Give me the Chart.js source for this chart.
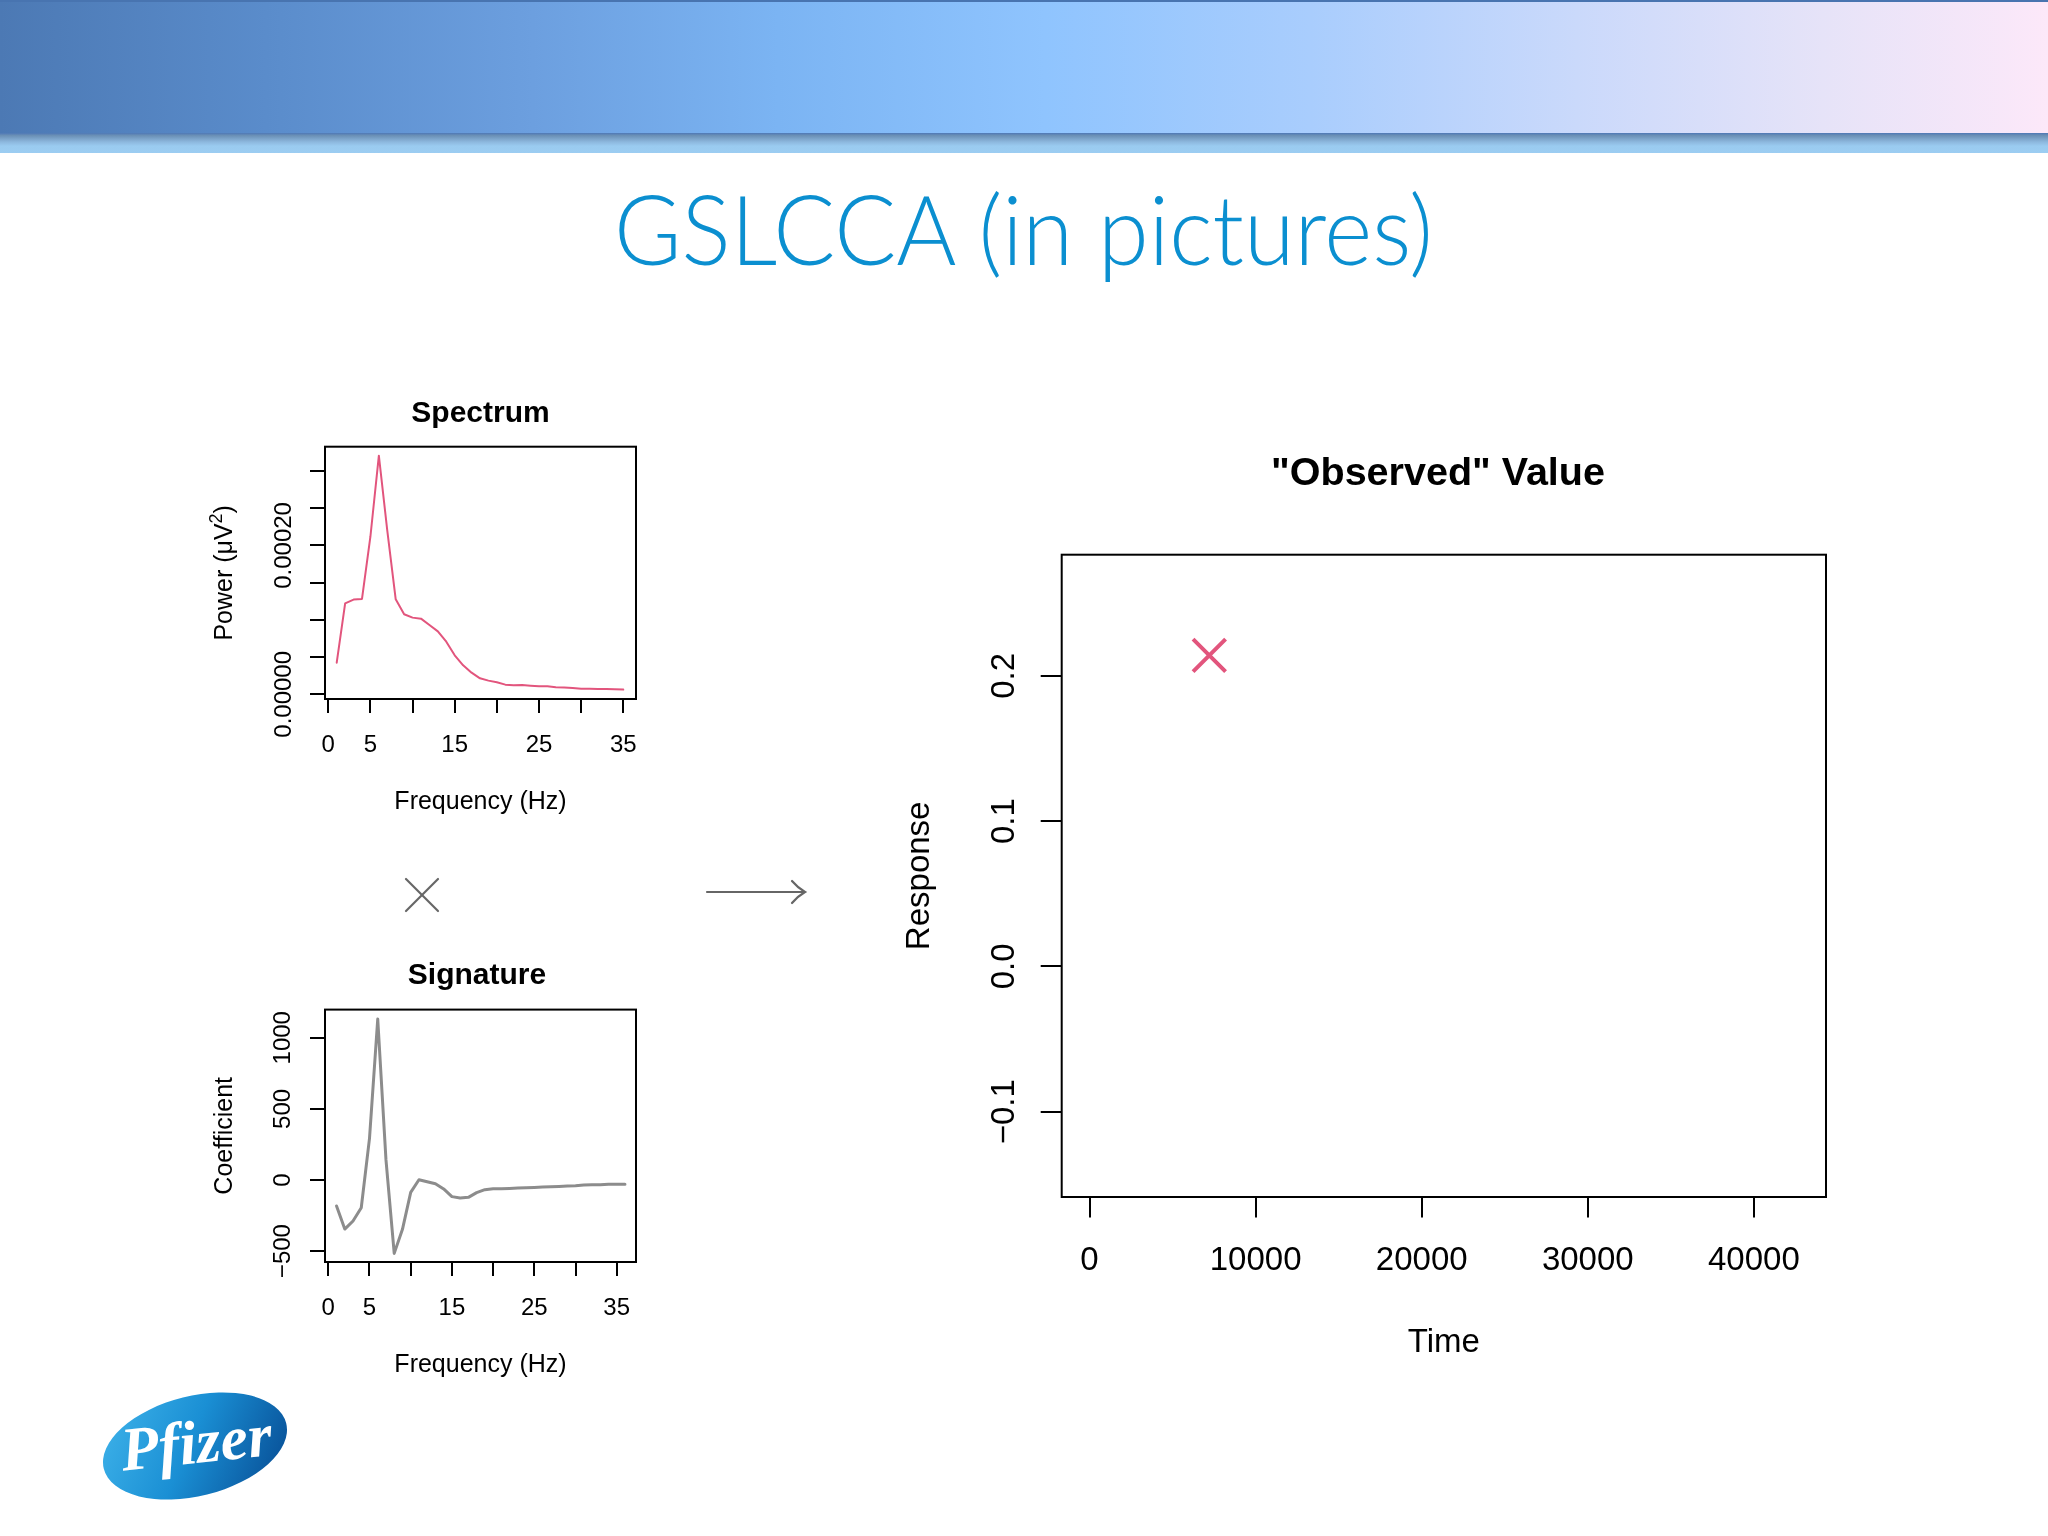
<!DOCTYPE html>
<html>
<head>
<meta charset="utf-8">
<script src="https://cdn.jsdelivr.net/npm/chart.js@4.4.1/dist/chart.umd.min.js"></script>
<style>
  body { margin: 0; width: 2048px; height: 1536px; background: #fff; position: relative; overflow: hidden; }
  #header { position: absolute; left: 0; top: 0; width: 2048px; height: 135px; box-sizing: border-box;
    border-top: 2px solid #4874b0;
    background: linear-gradient(to right, #4c79b4 0%, #5a8ccb 13%, #6c9fdf 26%, #7bb4f3 38%, #8fc4fe 51%, #a9cdfd 64%, #cad9fb 77%, #e6e3f8 89%, #fce8f9 100%); }
  #band { position: absolute; left: 0; top: 133px; width: 2048px; height: 20px;
    background: linear-gradient(to bottom, #4e78b6 0%, #6a8fb5 12%, #8db8de 45%, #9acbf0 65%, #9ccdf2 100%); }
  canvas, svg { position: absolute; left: 0; top: 0; }
</style>
</head>
<body>
<div id="header"></div>
<div id="band"></div>
<svg width="2048" height="1536">
  <defs>
    <linearGradient id="pfizer-grad" x1="0" y1="0.2" x2="1" y2="0.6">
      <stop offset="0" stop-color="#3cb0e8"/>
      <stop offset="0.5" stop-color="#1a8fd4"/>
      <stop offset="1" stop-color="#0a579e"/>
    </linearGradient>
  </defs>
  <text x="1023.5" y="265" text-anchor="middle" font-family="Lato" font-weight="300" font-size="96" fill="#0b8fd0"
        textLength="819" lengthAdjust="spacingAndGlyphs">GSLCCA (in pictures)</text>
  <g stroke="#666" stroke-width="2.2" fill="none" stroke-linecap="round">
    <line x1="406" y1="879" x2="438" y2="911"/>
    <line x1="406" y1="911" x2="438" y2="879"/>
    <line x1="707" y1="892" x2="804" y2="892"/>
    <path d="M792 881 Q798 888 805 892 Q798 896 792 903"/>
  </g>
  <ellipse cx="195" cy="1446" rx="94" ry="50" transform="rotate(-14 195 1446)" fill="url(#pfizer-grad)"/>
  <text x="197" y="1463" text-anchor="middle" font-family="Liberation Serif" font-weight="bold" font-style="italic"
        font-size="62" fill="#fff" transform="rotate(-6 196 1450)">Pfizer</text>
</svg>
<canvas id="spectrum" width="2048" height="1536"></canvas>
<canvas id="signature" width="2048" height="1536"></canvas>
<canvas id="observed" width="2048" height="1536"></canvas>
<script>
// Spectrum panel
const spectrumFreq = [1, 2, 3, 4, 5, 6, 7, 8, 9, 10, 11, 12, 13, 14, 15, 16, 17, 18, 19, 20,
  21, 22, 23, 24, 25, 26, 27, 28, 29, 30, 31, 32, 33, 34, 35];
const spectrumPower = [4.25e-5, 1.222e-4, 1.272e-4, 1.281e-4, 2.12e-4, 3.206e-4, 2.2e-4, 1.276e-4,
  1.075e-4, 1.03e-4, 1.016e-4, 9.31e-5, 8.46e-5, 7.07e-5, 5.24e-5, 3.9e-5, 2.91e-5, 2.15e-5,
  1.84e-5, 1.61e-5, 1.3e-5, 1.21e-5, 1.25e-5, 1.16e-5, 1.07e-5, 1.07e-5, 9.4e-6, 9.0e-6,
  8.5e-6, 7.6e-6, 7.6e-6, 7.2e-6, 7.2e-6, 6.7e-6, 6.3e-6];
const spectrumXTicks = [0, 5, 10, 15, 20, 25, 30, 35];
const spectrumXLabels = [0, 5, 15, 25, 35];
const spectrumYTicks = [0, 0.00005, 0.0001, 0.00015, 0.0002, 0.00025, 0.0003];
const spectrumYLabels = [0, 0.0002];

// Signature panel
const signatureFreq = [1, 2, 3, 4, 5, 6, 7, 8, 9, 10, 11, 12, 13, 14, 15, 16, 17, 18, 19, 20,
  21, 22, 23, 24, 25, 26, 27, 28, 29, 30, 31, 32, 33, 34, 35, 36];
const signatureCoef = [-183, -345, -288, -195, 293, 1132, 141, -516, -347, -87, 2, -12, -26, -63,
  -117, -127, -122, -89, -68, -61, -61, -59, -56, -54, -52, -49, -47, -45, -42, -40, -35, -33,
  -33, -30, -30, -30];
const signatureXTicks = [0, 5, 10, 15, 20, 25, 30, 35];
const signatureXLabels = [0, 5, 15, 25, 35];
const signatureYTicks = [-500, 0, 500, 1000];
const signatureYLabels = [-500, 0, 500, 1000];

// "Observed" value panel
const observedTime = [7213];
const observedResponse = [0.2141];
const observedXTicks = [0, 10000, 20000, 30000, 40000];
const observedYTicks = [-0.1, 0, 0.1, 0.2];

const PINK = "#e2557d";
const FONT = '"Liberation Sans", Arial, sans-serif';

function fmt(v, digits) {
  let s = Math.abs(v).toFixed(digits);
  return (v < 0 ? "\u2212" : "") + s;
}

// draws the R style box, tick labels and titles
const rStyle = {
  id: "rStyle",
  afterDraw(chart, args, o) {
    const ctx = chart.ctx;
    const a = chart.chartArea;
    const xs = chart.scales.x, ys = chart.scales.y;
    ctx.save();
    ctx.strokeStyle = "#000";
    ctx.lineWidth = o.boxWidth;
    ctx.strokeRect(a.left, a.top, a.right - a.left, a.bottom - a.top);

    ctx.fillStyle = "#000";
    ctx.textAlign = "center";
    ctx.textBaseline = "alphabetic";
    ctx.font = o.tickFont + "px " + FONT;
    o.xLabels.forEach((v) => {
      ctx.fillText(fmt(v, o.xDigits), xs.getPixelForValue(v), a.bottom + o.xLabelGap);
    });
    o.yLabels.forEach((v) => {
      ctx.save();
      ctx.translate(a.left - o.yLabelGap, ys.getPixelForValue(v));
      ctx.rotate(-Math.PI / 2);
      ctx.fillText(fmt(v, o.yDigits), 0, 0);
      ctx.restore();
    });

    ctx.font = "bold " + o.titleFont + "px " + FONT;
    ctx.fillText(o.title, o.titleX, a.top - o.titleGap);

    ctx.font = o.labelFont + "px " + FONT;
    ctx.fillText(o.xTitle, (a.left + a.right) / 2, a.bottom + o.xTitleGap);

    // y title, with optional superscript
    ctx.save();
    ctx.translate(a.left - o.yTitleGap, (a.top + a.bottom) / 2);
    ctx.rotate(-Math.PI / 2);
    const parts = o.yTitle;
    const supFont = Math.round(o.labelFont * 0.7) + "px " + FONT;
    const normFont = o.labelFont + "px " + FONT;
    let total = 0;
    const widths = parts.map((p) => {
      ctx.font = p.sup ? supFont : normFont;
      const w = ctx.measureText(p.text).width;
      total += w;
      return w;
    });
    let x = -total / 2;
    ctx.textAlign = "left";
    parts.forEach((p, i) => {
      ctx.font = p.sup ? supFont : normFont;
      ctx.fillText(p.text, x, p.sup ? -o.labelFont * 0.42 : 0);
      x += widths[i];
    });
    ctx.restore();
    ctx.restore();
  }
};

function rChart(id, cfg) {
  const W = 2048, H = 1536, pad = 20;
  return new Chart(document.getElementById(id), {
    type: "line",
    data: { datasets: cfg.datasets },
    options: {
      responsive: false,
      animation: false,
      devicePixelRatio: 1,
      events: [],
      layout: {
        padding: { left: cfg.box.l - pad, top: cfg.box.t, right: W - cfg.box.r, bottom: H - cfg.box.b - pad }
      },
      plugins: {
        legend: { display: false },
        tooltip: { enabled: false },
        rStyle: cfg.r
      },
      scales: {
        x: {
          type: "linear",
          min: cfg.xMin, max: cfg.xMax,
          afterFit: (s) => { s.height = pad; },
          afterBuildTicks: (s) => { s.ticks = cfg.xTicks.map((v) => ({ value: v })); },
          grid: { drawOnChartArea: false, drawTicks: true, tickLength: cfg.xTickLen, color: "#000", lineWidth: cfg.tickWidth },
          border: { display: false },
          ticks: { display: false }
        },
        y: {
          type: "linear",
          min: cfg.yMin, max: cfg.yMax,
          afterFit: (s) => { s.width = pad; },
          afterBuildTicks: (s) => { s.ticks = cfg.yTicks.map((v) => ({ value: v })); },
          grid: { drawOnChartArea: false, drawTicks: true, tickLength: cfg.yTickLen, color: "#000", lineWidth: cfg.tickWidth },
          border: { display: false },
          ticks: { display: false }
        }
      }
    },
    plugins: [rStyle]
  });
}

rChart("spectrum", {
  box: { l: 325, t: 446.7, r: 636, b: 699 },
  xMin: -0.39, xMax: 36.51, yMin: -0.0000063, yMax: 0.0003326,
  xTicks: spectrumXTicks, yTicks: spectrumYTicks,
  xTickLen: 14, yTickLen: 15, tickWidth: 2,
  datasets: [{
    data: spectrumFreq.map((f, i) => ({ x: f, y: spectrumPower[i] })),
    borderColor: PINK, borderWidth: 2, pointRadius: 0, tension: 0,
    borderJoinStyle: "round", borderCapStyle: "round"
  }],
  r: {
    boxWidth: 2, tickFont: 24, labelFont: 25, titleFont: 30,
    xLabels: spectrumXLabels, xDigits: 0, xLabelGap: 52.7,
    yLabels: spectrumYLabels, yDigits: 5, yLabelGap: 34,
    title: "Spectrum", titleX: 480.5, titleGap: 25,
    xTitle: "Frequency (Hz)", xTitleGap: 110,
    yTitle: [{ text: "Power (\u03bcV" }, { text: "2", sup: true }, { text: ")" }], yTitleGap: 93
  }
});

rChart("signature", {
  box: { l: 325, t: 1009.6, r: 636, b: 1262 },
  xMin: -0.4, xMax: 37.34, yMin: -576.6, yMax: 1198,
  xTicks: signatureXTicks, yTicks: signatureYTicks,
  xTickLen: 14, yTickLen: 15, tickWidth: 2,
  datasets: [{
    data: signatureFreq.map((f, i) => ({ x: f, y: signatureCoef[i] })),
    borderColor: "#8c8c8c", borderWidth: 3, pointRadius: 0, tension: 0,
    borderJoinStyle: "round", borderCapStyle: "round"
  }],
  r: {
    boxWidth: 2, tickFont: 24, labelFont: 25, titleFont: 30,
    xLabels: signatureXLabels, xDigits: 0, xLabelGap: 53,
    yLabels: signatureYLabels, yDigits: 0, yLabelGap: 35,
    title: "Signature", titleX: 477, titleGap: 25.6,
    xTitle: "Frequency (Hz)", xTitleGap: 110.3,
    yTitle: [{ text: "Coefficient" }], yTitleGap: 93.3
  }
});

rChart("observed", {
  box: { l: 1061.7, t: 554.7, r: 1826, b: 1197 },
  xMin: -1674, xMax: 44341, yMin: -0.1587, yMax: 0.28335,
  xTicks: observedXTicks, yTicks: observedYTicks,
  xTickLen: 20.5, yTickLen: 21, tickWidth: 2,
  datasets: [{
    data: observedTime.map((t, i) => ({ x: t, y: observedResponse[i] })),
    showLine: false, pointStyle: "crossRot", pointRadius: 23,
    pointBorderColor: PINK, pointBorderWidth: 4, borderColor: PINK
  }],
  r: {
    boxWidth: 2, tickFont: 33, labelFont: 33, titleFont: 39.5,
    xLabels: observedXTicks, xDigits: 0, xLabelGap: 73,
    yLabels: observedYTicks, yDigits: 1, yLabelGap: 48.2,
    title: "\"Observed\" Value", titleX: 1438, titleGap: 69.7,
    xTitle: "Time", xTitleGap: 154.7,
    yTitle: [{ text: "Response" }], yTitleGap: 132.7
  }
});
</script>
</body>
</html>
